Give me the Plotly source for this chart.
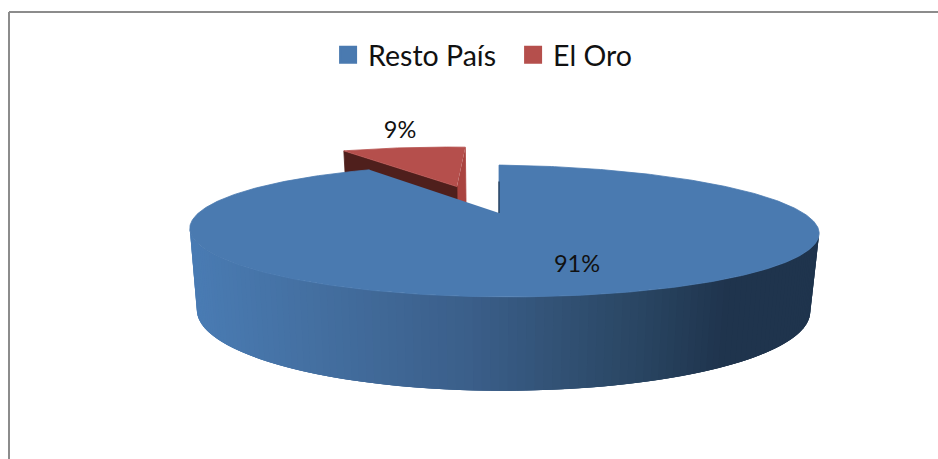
import numpy as np
import plotly.graph_objects as go

labels = ["Resto País", "El Oro"]
values = [91, 9]
colors = ["#4A7AB0", "#B54F4C"]
red_inner = "#4F1F1C"
wall_stops = [(190, (74, 124, 180)), (300, (69, 113, 163)), (470, (59, 95, 138)),
              (640, (42, 70, 99)), (730, (31, 52, 77)), (819, (31, 52, 77))]

W, H = 938, 459
K = 0.273
TOP = dict(ax=(297.5, 308), b=61, cy=213, tilt=2.5)
BOT = dict(ax=(290.7, 299.4), b=74, cy=289, tilt=1.0)
CX = 499
RED_OFF = (-0.16, 0.482)
RED_R = 1.035


def proj(u, v, g):
    u, v = np.asarray(u, float), np.asarray(v, float)
    w = 1 + K * v
    a = np.where(u < 0, g["ax"][0], g["ax"][1])
    return CX + a * u / w, g["cy"] - g["b"] * v / w + g["tilt"] * u


def rim(t0, t1, g, off=(0, 0), r=1.0, n=200):
    t = np.linspace(t0, t1, n)
    return proj(off[0] + r * np.sin(t), off[1] + r * np.cos(t), g)


def poly(x, y, color, lw=0.8):
    return go.Scatter(x=list(x), y=list(y), mode="lines", fill="toself", fillcolor=color,
                      line=dict(color=color, width=lw), hoverinfo="skip", showlegend=False)


def wall_color(x):
    xs = [s[0] for s in wall_stops]
    return "rgb(%d,%d,%d)" % tuple(np.interp(x, xs, [s[1][i] for s in wall_stops]) for i in range(3))


total = sum(values)
sweep = 2 * np.pi * values[0] / total
traces = []

# red slice: far-side wall pieces, then top
rx_top, ry_top = rim(sweep, 2 * np.pi, TOP, RED_OFF, RED_R)
rx_bot, ry_bot = rim(sweep, 2 * np.pi, BOT, RED_OFF, RED_R)
ax_t, ay_t = proj(RED_OFF[0], RED_OFF[1], TOP)
ax_b, ay_b = proj(RED_OFF[0], RED_OFF[1], BOT)
traces.append(poly([rx_top[-1], rx_bot[-1], ax_b, ax_t], [ry_top[-1], ry_bot[-1], ay_b, ay_t], "#A9433F"))
traces.append(poly([rx_top[0], rx_bot[0], ax_b, ax_t], [ry_top[0], ry_bot[0], ay_b, ay_t], red_inner))
traces.append(poly(np.r_[ax_t, rx_top], np.r_[ay_t, ry_top], colors[1]))

# blue slice: outer wall, painted as overlapping strips so no seams show
left = np.pi + np.arcsin(np.sqrt(1 - K**2))
right = np.pi - np.arcsin(np.sqrt(1 - K**2))
edges = np.linspace(left, right, 121)
for i in range(len(edges) - 1):
    a, b = edges[i], edges[min(i + 3, len(edges) - 1)]
    xt, yt = rim(a, b, TOP, n=10)
    xb, yb = rim(a, b, BOT, n=10)
    mid_x, _ = rim(edges[i], edges[i + 1], TOP, n=2)
    traces.append(poly(np.r_[xt, xb[::-1]], np.r_[yt, yb[::-1]], wall_color(mid_x.mean()), lw=0))

# blue slice: top
bx, by = rim(0, sweep, TOP, n=500)
cx0, cy0 = proj(0, 0, TOP)
traces.append(poly(np.r_[cx0, bx], np.r_[cy0, by], colors[0]))

# thin sliver of the blue cut face
sx, sy = proj([0, 0], [0, 0.6], TOP)
traces.append(go.Scatter(x=list(sx), y=list(sy), mode="lines", hoverinfo="skip", showlegend=False,
                         line=dict(color="#1F344D", width=1.2)))

# percentage labels
traces.append(go.Scatter(x=[577, 400], y=[266, 132], mode="text",
                         text=[f"{round(100 * v / total)}%" for v in values],
                         textfont=dict(family="Lato", size=23.5, color="#111111"),
                         textposition="middle center", hoverinfo="skip", showlegend=False))

# legend
for name, color in zip(labels, colors):
    traces.append(go.Scatter(x=[None], y=[None], mode="markers", name=name,
                             marker=dict(symbol="square", size=18, color=color,
                                         line=dict(color=color, width=2))))

fig = go.Figure(traces)
fig.update_layout(
    width=W, height=H, margin=dict(l=0, r=0, t=0, b=0), autosize=False,
    paper_bgcolor="white", plot_bgcolor="white",
    xaxis=dict(range=[0, W], visible=False, fixedrange=True),
    yaxis=dict(range=[H, 0], visible=False, fixedrange=True),
    legend=dict(orientation="h", x=0.547, xanchor="center", y=0.935, yanchor="top",
                font=dict(family="Lato", size=28.5, color="#111111"), itemsizing="trace",
                entrywidth=140, bgcolor="rgba(0,0,0,0)"),
    shapes=[
        dict(type="line", x0=9, x1=9, y0=12, y1=H, line=dict(color="#8C8C8C", width=2)),
        dict(type="line", x0=9, x1=W, y0=12, y1=12, line=dict(color="#8C8C8C", width=2)),
    ],
)
fig.write_html("out.html", config={"displayModeBar": False},
               post_script="document.body.style.margin='0';")
